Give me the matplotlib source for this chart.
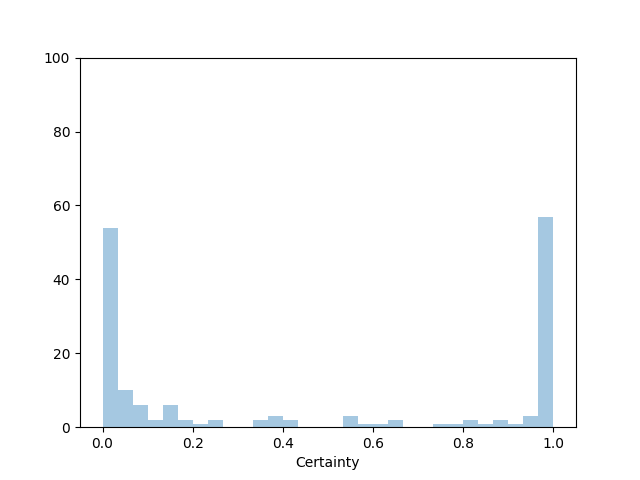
import numpy as np
import matplotlib
matplotlib.use("Agg")
import matplotlib.pyplot as plt

# histogram of certainty scores, 30 bins over [0, 1]
bin_count = 30
counts = [54, 10, 6, 2, 6, 2, 1, 2, 0, 0,
          2, 3, 2, 0, 0, 0, 3, 1, 1, 2,
          0, 0, 1, 1, 2, 1, 2, 1, 3, 57]

edges = np.linspace(0, 1, bin_count + 1)
centers = (edges[:-1] + edges[1:]) / 2

fig, ax = plt.subplots(figsize=(6.4, 4.8), dpi=100)
ax.hist(centers, bins=edges, weights=counts, color='#1f77b4', alpha=0.4)
ax.set_ylim(0, 100)
ax.set_xlabel('Certainty')
plt.savefig("out.png")
